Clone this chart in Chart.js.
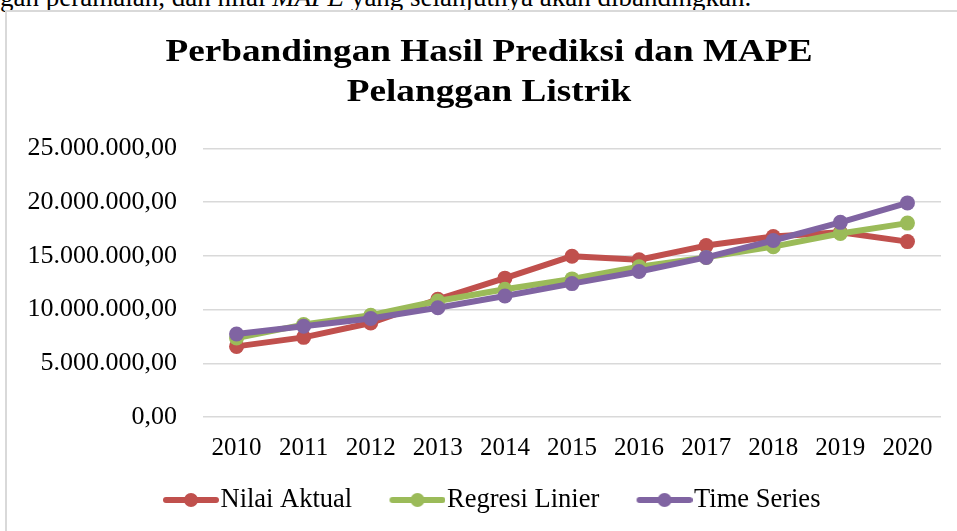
<!DOCTYPE html>
<html><head><meta charset="utf-8">
<script src="https://cdn.jsdelivr.net/npm/chart.js@4"></script>
<style>
html,body{margin:0;padding:0;background:#fff;overflow:hidden;}
#wrap{position:relative;width:957px;height:531px;overflow:hidden;}
#doc{position:absolute;left:0;top:-16px;font:27px/27px "Liberation Serif",serif;white-space:nowrap;color:#000;}
#frame{position:absolute;left:5px;top:10px;width:1000px;height:600px;border:2px solid #d9d9d9;box-sizing:border-box;}
canvas{position:absolute;left:0;top:0;}
</style></head><body>
<div id="wrap">
<div id="doc">gan peramalan, dan nilai <i>MAPE</i> yang selanjutnya akan dibandingkan.</div>
<div id="frame"></div>
<canvas id="c" width="957" height="531"></canvas>
</div>
<script>
const years = ['2010','2011','2012','2013','2014','2015','2016','2017','2018','2019','2020'];
const nilaiAktual = [6570000, 7410000, 8750000, 10950000, 12920000, 14960000, 14630000, 15950000, 16790000, 17190000, 16320000];
const regresiLinier = [7350000, 8600000, 9470000, 10790000, 11890000, 12850000, 13980000, 14850000, 15850000, 17070000, 18040000];
const timeSeries = [7720000, 8440000, 9170000, 10160000, 11260000, 12410000, 13540000, 14850000, 16420000, 18110000, 19920000];
const seriesNames = ['Nilai Aktual', 'Regresi Linier', 'Time Series'];
const yTickValues = [0, 5000000, 10000000, 15000000, 20000000, 25000000];
const titleLines = ['Perbandingan Hasil Prediksi dan MAPE', 'Pelanggan Listrik'];

const colors = ['#C0504D', '#9BBB59', '#8064A2'];
const FONT = 'Liberation Serif';
const LEG_M = 39;          // transparent left margin inside legend sample image
const LEG_BOX = 32.5 + LEG_M;
const TITLE_SX = 1.164;    // horizontal stretch of the title glyphs

function fmt(v) {
  const s = Math.round(v).toString().replace(/\B(?=(\d{3})+(?!\d))/g, '.');
  return s + ',00';
}
function legendImg(color) {
  const c = document.createElement('canvas');
  c.width = 56 + LEG_M; c.height = 20;
  const x = c.getContext('2d');
  x.strokeStyle = color; x.lineWidth = 6; x.lineCap = 'round';
  x.beginPath(); x.moveTo(LEG_M + 3, 10); x.lineTo(LEG_M + 53, 10); x.stroke();
  x.fillStyle = color;
  x.beginPath(); x.arc(LEG_M + 28, 10, 7, 0, Math.PI * 2); x.fill();
  return c;
}
const legendImgs = colors.map(legendImg);

const shiftPlugin = {
  id: 'shift',
  afterLayout(chart) {
    const lg = chart.legend;
    if (lg && lg.lineWidths) {
      const pad = lg.options.labels.padding;
      const cur = (lg.left + pad + lg.right - lg.lineWidths[0]) / 2;
      const d = (163 - (LEG_M - 11.75)) - cur;
      lg.left += d; lg.right += d;
    }
    const t = chart.titleBlock;
    if (t) {
      const d = 489 - (t.left + t.right) / 2;
      t.left += d; t.right += d;
      if (!t._sx) {
        const orig = t.draw.bind(t);
        t.draw = function (a) {
          const ctx = this.ctx;
          const cx = (this.left + this.right) / 2;
          ctx.save();
          ctx.translate(cx, 0); ctx.scale(TITLE_SX, 1); ctx.translate(-cx, 0);
          orig(a);
          ctx.restore();
        };
        t._sx = true;
      }
    }
  }
};

function mkDs(label, data, color, order) {
  return {
    label, data, borderColor: color, backgroundColor: color,
    borderWidth: 6, pointRadius: 7.5, pointBorderWidth: 0, pointBackgroundColor: color,
    borderCapStyle: 'round', borderJoinStyle: 'round', tension: 0, order
  };
}

new Chart(document.getElementById('c'), {
  type: 'line',
  data: {
    labels: years,
    datasets: [
      mkDs(seriesNames[0], nilaiAktual, colors[0], 3),
      mkDs(seriesNames[1], regresiLinier, colors[1], 2),
      mkDs(seriesNames[2], timeSeries, colors[2], 1)
    ]
  },
  plugins: [shiftPlugin],
  options: {
    responsive: false, animation: false, devicePixelRatio: 1,
    layout: { padding: { left: 0, right: 16, top: 0, bottom: 7.75 } },
    plugins: {
      title: {
        display: true, text: titleLines, color: '#000',
        font: { family: FONT, size: 32, weight: 'bold', lineHeight: 1.272 },
        padding: { top: 32.15, bottom: 34.75 }
      },
      legend: {
        position: 'bottom',
        labels: {
          usePointStyle: true, pointStyleWidth: LEG_BOX, padding: 10, color: '#000',
          font: { family: FONT, size: 26.5 },
          generateLabels: (chart) => chart.data.datasets.map((ds, i) => ({
            text: ds.label, pointStyle: legendImgs[i], fillStyle: ds.borderColor,
            strokeStyle: ds.borderColor, lineWidth: 0, hidden: false, datasetIndex: i, fontColor: '#000'
          }))
        }
      },
      tooltip: { enabled: false }
    },
    scales: {
      x: {
        offset: true,
        grid: { display: false, drawTicks: false, offset: true },
        border: { display: false },
        ticks: { color: '#000', font: { family: FONT, size: 25 }, padding: 16, maxRotation: 0, autoSkip: false },
        afterFit(s) { s.height = 59.75; }
      },
      y: {
        min: 0, max: 25000000,
        afterBuildTicks(s) { s.ticks = yTickValues.map(v => ({ value: v })); },
        ticks: { callback: fmt, padding: 26, color: '#000', font: { family: FONT, size: 26 } },
        grid: { color: '#d9d9d9', lineWidth: 1.5, drawTicks: false },
        border: { display: false },
        afterFit(s) { s.width = 203; }
      }
    }
  }
});
</script>
</body></html>
